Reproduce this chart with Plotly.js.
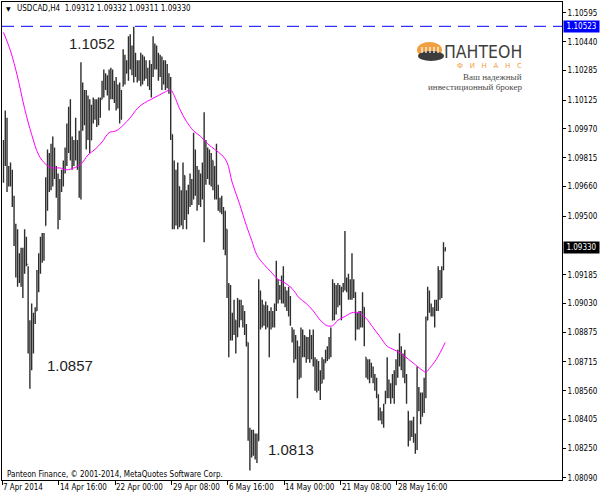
<!DOCTYPE html>
<html>
<head>
<meta charset="utf-8">
<script src="https://cdn.plot.ly/plotly-3.0.1.min.js"></script>
<style>
html,body{margin:0;padding:0;background:#fff;}
#chart{width:600px;height:496px;}
</style>
</head>
<body>
<div id="chart"></div>
<script>
// ---- USDCAD H4 bars ----
const barOpen = [
1.0972,1.0988,1.0986,1.0970,1.0972,1.0967,1.0959,1.0940,1.0924,1.0921,
1.0924,1.0918,1.0929,1.0932,1.0924,1.0883,1.0878,1.0889,1.0894,1.0899,
1.0918,1.0926,1.0934,1.0934,1.0945,1.0967,1.0975,1.0980,1.0978,1.0986,
1.0972,1.0964,1.0953,1.0967,1.0972,1.0978,1.0983,1.0996,1.1002,1.0986,
1.0983,1.0988,1.0986,1.0980,1.0991,1.1013,1.1005,1.1007,1.0994,1.1010,
1.0991,1.1007,1.1005,1.1007,1.1002,1.1010,1.1013,1.1021,1.1023,1.1021,
1.1018,1.1023,1.1018,1.1015,1.1021,1.1013,1.1015,1.1005,1.1020,1.1034,
1.1027,1.1032,1.1042,1.1034,1.1040,1.1034,1.1029,1.1032,1.1026,1.1034,
1.1026,1.1032,1.1026,1.1026,1.1021,1.1029,1.1040,1.1034,1.1034,1.1029,
1.1032,1.1023,1.1029,1.1023,1.1025,1.1021,1.0994,1.0959,1.0970,1.0953,
1.0966,1.0951,1.0961,1.0972,1.0953,1.0959,1.0964,1.0967,1.0964,1.0980,
1.0967,1.0961,1.0970,1.0961,1.0975,1.0986,1.0975,1.0983,1.0972,1.0980,
1.0967,1.0970,1.0964,1.0956,1.0956,1.0953,1.0937,1.0943,1.0910,1.0889,
1.0894,1.0891,1.0894,1.0885,1.0902,1.0897,1.0899,1.0894,1.0889,1.0882,
1.0832,1.0827,1.0824,1.0832,1.0821,1.0829,1.0905,1.0894,1.0902,1.0894,
1.0899,1.0894,1.0894,1.0897,1.0897,1.0902,1.0913,1.0910,1.0910,1.0913,
1.0907,1.0905,1.0907,1.0899,1.0890,1.0883,1.0878,1.0880,1.0867,1.0875,
1.0883,1.0878,1.0885,1.0875,1.0880,1.0883,1.0875,1.0873,1.0864,1.0859,
1.0864,1.0860,1.0870,1.0871,1.0875,1.0878,1.0883,1.0894,1.0910,1.0905,
1.0907,1.0910,1.0905,1.0910,1.0911,1.0916,1.0913,1.0913,1.0910,1.0913,
1.0909,1.0894,1.0894,1.0897,1.0894,1.0901,1.0874,1.0867,1.0870,1.0864,
1.0867,1.0862,1.0859,1.0854,1.0843,1.0843,1.0841,1.0849,1.0854,1.0859,
1.0856,1.0859,1.0856,1.0862,1.0870,1.0873,1.0875,1.0873,1.0870,1.0863,
1.0845,1.0835,1.0837,1.0835,1.0832,1.0829,1.0854,1.0848,1.0851,1.0845,
1.0856,1.0894,1.0905,1.0899,1.0899,1.0898,1.0902,1.0903,1.0918,1.0910,
1.0921,1.09312
];
const barHigh = [
1.0991,1.1007,1.1003,1.0977,1.0979,1.0975,1.0961,1.0946,1.0943,1.0930,
1.0933,1.0933,1.0943,1.0939,1.0923,1.0894,1.0903,1.0898,1.0901,1.0921,
1.0930,1.0939,1.0941,1.0941,1.0971,1.0986,1.0984,1.0989,1.0993,1.0987,
1.0977,1.0973,1.0970,1.0975,1.0980,1.0987,1.1000,1.1009,1.1013,1.0993,
1.0991,1.1003,1.0991,1.0996,1.1033,1.1022,1.1018,1.1018,1.1015,1.1013,
1.1010,1.1014,1.1013,1.1013,1.1014,1.1014,1.1023,1.1029,1.1027,1.1026,
1.1029,1.1030,1.1029,1.1023,1.1025,1.1021,1.1022,1.1018,1.1040,1.1037,
1.1034,1.1047,1.1048,1.1042,1.1052,1.1038,1.1034,1.1034,1.1038,1.1037,
1.1036,1.1034,1.1030,1.1034,1.1032,1.1047,1.1043,1.1042,1.1038,1.1037,
1.1036,1.1034,1.1034,1.1032,1.1027,1.1025,1.0994,1.0980,1.0975,1.0979,
1.0966,1.0964,1.0979,1.0972,1.0964,1.0967,1.0973,1.0970,1.0995,1.0986,
1.0977,1.0975,1.0973,1.0979,1.1006,1.0991,1.0987,1.0986,1.0984,1.0980,
1.0977,1.0989,1.0967,1.0960,1.0961,1.0955,1.0953,1.0943,1.0914,1.0913,
1.0898,1.0905,1.0894,1.0906,1.0905,1.0905,1.0902,1.0899,1.0892,1.0882,
1.0836,1.0835,1.0835,1.0833,1.0833,1.0916,1.0910,1.0905,1.0902,1.0904,
1.0902,1.0899,1.0901,1.0899,1.0903,1.0926,1.0916,1.0913,1.0918,1.0923,
1.0912,1.0910,1.0912,1.0907,1.0890,1.0889,1.0886,1.0883,1.0880,1.0890,
1.0889,1.0886,1.0885,1.0885,1.0889,1.0886,1.0889,1.0874,1.0873,1.0872,
1.0867,1.0874,1.0873,1.0878,1.0880,1.0885,1.0890,1.0916,1.0914,1.0913,
1.0914,1.0913,1.0912,1.0914,1.0942,1.0917,1.0919,1.0916,1.0930,1.0916,
1.0909,1.0898,1.0899,1.0899,1.0909,1.0901,1.0874,1.0873,1.0873,1.0871,
1.0869,1.0865,1.0863,1.0854,1.0847,1.0845,1.0849,1.0856,1.0874,1.0862,
1.0860,1.0865,1.0867,1.0873,1.0878,1.0887,1.0880,1.0876,1.0878,1.0865,
1.0845,1.0840,1.0840,1.0842,1.0833,1.0869,1.0858,1.0855,1.0855,1.0863,
1.0896,1.0912,1.0910,1.0903,1.0901,1.0905,1.0905,1.0923,1.0921,1.0923,
1.0936,1.09332
];
const barLow = [
1.0968,1.0977,1.0963,1.0966,1.0966,1.0955,1.0934,1.0917,1.0912,1.0914,
1.0912,1.0906,1.0919,1.0923,1.0876,1.0857,1.0867,1.0876,1.0892,1.0899,
1.0909,1.0919,1.0925,1.0926,1.0945,1.0953,1.0963,1.0964,1.0966,1.0970,
1.0960,1.0943,1.0948,1.0963,1.0966,1.0973,1.0977,1.0984,1.0980,1.0975,
1.0977,1.0980,1.0975,1.0960,1.0959,1.0996,1.0999,1.0986,1.0991,1.0984,
1.0991,1.1000,1.1002,1.0998,1.0999,1.1003,1.1013,1.1014,1.1018,1.1015,
1.1007,1.1013,1.1013,1.1011,1.1007,1.1008,1.1000,1.1002,1.1020,1.1021,
1.1027,1.1023,1.1029,1.1026,1.1022,1.1025,1.1022,1.1023,1.1020,1.1021,
1.1023,1.1024,1.1020,1.1018,1.1014,1.1025,1.1029,1.1029,1.1023,1.1025,
1.1018,1.1021,1.1018,1.1019,1.1016,1.0991,1.0943,1.0943,1.0945,1.0943,
1.0944,1.0945,1.0943,1.0948,1.0943,1.0951,1.0955,1.0956,1.0959,1.0961,
1.0953,1.0956,1.0955,1.0959,1.0936,1.0967,1.0970,1.0967,1.0966,1.0964,
1.0959,1.0959,1.0953,1.0952,1.0951,1.0932,1.0929,1.0906,1.0874,1.0883,
1.0883,1.0886,1.0876,1.0885,1.0890,1.0894,1.0890,1.0886,1.0880,1.0829,
1.0813,1.0820,1.0821,1.0819,1.0817,1.0829,1.0889,1.0890,1.0891,1.0889,
1.0890,1.0874,1.0889,1.0890,1.0890,1.0899,1.0903,1.0905,1.0903,1.0903,
1.0901,1.0899,1.0896,1.0891,1.0882,1.0871,1.0873,1.0852,1.0862,1.0863,
1.0874,1.0874,1.0871,1.0873,1.0871,1.0873,1.0869,1.0856,1.0855,1.0856,
1.0851,1.0860,1.0862,1.0871,1.0872,1.0873,1.0874,1.0894,1.0894,1.0897,
1.0901,1.0902,1.0894,1.0909,1.0910,1.0909,1.0905,1.0905,1.0905,1.0906,
1.0883,1.0889,1.0889,1.0890,1.0890,1.0880,1.0863,1.0862,1.0860,1.0863,
1.0860,1.0856,1.0852,1.0840,1.0840,1.0838,1.0836,1.0849,1.0852,1.0852,
1.0849,1.0852,1.0849,1.0859,1.0863,1.0869,1.0867,1.0863,1.0860,1.0849,
1.0826,1.0829,1.0831,1.0828,1.0822,1.0824,1.0845,1.0838,1.0842,1.0844,
1.0852,1.0894,1.0898,1.0896,1.0896,1.0890,1.0899,1.0899,1.0905,1.0906,
1.0921,1.09311
];
const barClose = [
1.0988,1.0986,1.0970,1.0972,1.0967,1.0959,1.0940,1.0924,1.0921,1.0924,
1.0918,1.0929,1.0932,1.0924,1.0883,1.0878,1.0889,1.0894,1.0899,1.0918,
1.0926,1.0934,1.0934,1.0939,1.0967,1.0975,1.0980,1.0978,1.0986,1.0972,
1.0964,1.0953,1.0967,1.0972,1.0978,1.0983,1.0996,1.1002,1.0986,1.0983,
1.0988,1.0986,1.0980,1.0991,1.1013,1.1005,1.1007,1.0994,1.1010,1.0991,
1.1007,1.1005,1.1007,1.1002,1.1010,1.1013,1.1021,1.1023,1.1021,1.1018,
1.1023,1.1018,1.1015,1.1021,1.1013,1.1015,1.1005,1.1015,1.1034,1.1026,
1.1032,1.1042,1.1034,1.1040,1.1034,1.1029,1.1032,1.1026,1.1034,1.1026,
1.1032,1.1026,1.1026,1.1021,1.1029,1.1040,1.1034,1.1034,1.1029,1.1032,
1.1023,1.1029,1.1023,1.1025,1.1021,1.0994,1.0959,1.0970,1.0953,1.0970,
1.0951,1.0961,1.0972,1.0953,1.0959,1.0964,1.0967,1.0964,1.0980,1.0967,
1.0961,1.0970,1.0961,1.0975,1.0986,1.0975,1.0983,1.0972,1.0980,1.0967,
1.0970,1.0964,1.0956,1.0956,1.0953,1.0937,1.0945,1.0910,1.0889,1.0894,
1.0891,1.0899,1.0883,1.0902,1.0897,1.0899,1.0894,1.0889,1.0880,1.0832,
1.0827,1.0824,1.0832,1.0821,1.0829,1.0905,1.0894,1.0902,1.0894,1.0899,
1.0894,1.0894,1.0897,1.0897,1.0902,1.0913,1.0910,1.0910,1.0913,1.0907,
1.0905,1.0907,1.0899,1.0893,1.0883,1.0878,1.0880,1.0867,1.0875,1.0883,
1.0878,1.0883,1.0875,1.0880,1.0883,1.0875,1.0873,1.0864,1.0859,1.0864,
1.0859,1.0870,1.0870,1.0875,1.0878,1.0883,1.0889,1.0910,1.0905,1.0907,
1.0910,1.0905,1.0910,1.0911,1.0916,1.0913,1.0913,1.0910,1.0913,1.0907,
1.0894,1.0894,1.0897,1.0894,1.0905,1.0883,1.0867,1.0870,1.0864,1.0867,
1.0862,1.0859,1.0854,1.0843,1.0843,1.0841,1.0848,1.0854,1.0859,1.0856,
1.0859,1.0856,1.0862,1.0870,1.0873,1.0875,1.0873,1.0870,1.0863,1.0851,
1.0835,1.0837,1.0835,1.0832,1.0829,1.0854,1.0848,1.0851,1.0845,1.0856,
1.0894,1.0905,1.0899,1.0899,1.0898,1.0902,1.0903,1.0918,1.0910,1.0921,
1.0931,1.09330
];
const barIndex = barClose.map((_, i) => i);

// ---- moving average (magenta line) read at sample bars ----
const maIndex = [0,4,8,12,16,20,24,28,32,36,40,44,48,52,56,60,64,68,72,76,80,84,88,92,95,97,100,104,108,112,116,120,124,127,130,134,138,141,144,148,152,156,160,164,168,172,176,180,184,187,190,194,198,202,206,210,214,218,222,226,230,234,238,240,242,246,251];
const maValue = [1.1049,1.1039,1.1025,1.1008,1.0994,1.0983,1.0978,1.0976,1.0976,1.0975,1.0976,1.0978,1.0983,1.0986,1.0990,1.0995,1.0996,1.0999,1.1003,1.1008,1.1011,1.1013,1.1015,1.1017,1.1018,1.1015,1.1008,1.1001,1.0996,1.0993,1.0989,1.0986,1.0983,1.0979,1.0968,1.0957,1.0945,1.0937,1.0929,1.0924,1.0920,1.0916,1.0914,1.0911,1.0906,1.0903,1.0899,1.0894,1.0891,1.0891,1.0894,1.0896,1.0898,1.0898,1.0895,1.0890,1.0885,1.0880,1.0878,1.0876,1.0873,1.0870,1.0867,1.0866,1.0868,1.0873,1.0882];

// ---- axis labels ----
const timeTickPos = [-0.7, 31.5, 63.5, 95.5, 127.5, 159.5, 191.5, 223.5];
const timeTickText = ["7 Apr 2014","14 Apr 16:00","22 Apr 00:00","29 Apr 08:00","6 May 16:00","14 May 00:00","21 May 08:00","28 May 16:00"];
const priceTickVals = [1.10595,1.10440,1.10285,1.10125,1.09970,1.09815,1.09660,1.09500,1.09185,1.09030,1.08875,1.08715,1.08560,1.08405,1.08250,1.08090];
const priceTickText = ["1.10595","1.10440","1.10285","1.10125","1.09970","1.09815","1.09660","1.09500","1.09185","1.09030","1.08875","1.08715","1.08560","1.08405","1.08250","1.08090"];

const levelLine = 1.10523;
const lastPrice = 1.09330;
const markHigh = "1.1052", markLow1 = "1.0857", markLow2 = "1.0813";
const headerText = "USDCAD,H4  1.09312 1.09332 1.09311 1.09330";
const copyrightText = "Panteon Finance, © 2001-2014, MetaQuotes Software Corp.";

// ---- layout helpers (pixel -> paper) ----
const ML = 2, MT = 2, PW = 560, PH = 478;
const PX = x => (x - ML) / PW;
const PY = y => 1 - (y - MT) / PH;

const tickFont = {family: "DejaVu Sans Condensed, DejaVu Sans, sans-serif", size: 8, color: "#000"};

const annotations = [];
timeTickPos.forEach((p, k) => annotations.push({
  x: p, xref: "x", y: 0, yref: "paper", yanchor: "top", xanchor: "left",
  yshift: -1, xshift: -1, showarrow: false, text: timeTickText[k], font: tickFont
}));
annotations.push(
  {x: PX(4), xref: "paper", y: PY(9), yref: "paper", xanchor: "left", yanchor: "middle", showarrow: false,
   text: "▼", font: {family: "DejaVu Sans", size: 6, color: "#000"}},
  {x: PX(15), xref: "paper", y: PY(9), yref: "paper", xanchor: "left", yanchor: "middle", showarrow: false,
   text: headerText, font: tickFont},
  {x: PX(5), xref: "paper", y: PY(474), yref: "paper", xanchor: "left", yanchor: "middle", showarrow: false,
   text: copyrightText, font: tickFont},
  {x: PX(92), xref: "paper", y: PY(44), yref: "paper", xanchor: "center", yanchor: "middle", showarrow: false,
   text: markHigh, font: {family: "Liberation Sans, Arial, sans-serif", size: 15, color: "#1e1e1e"}},
  {x: PX(70), xref: "paper", y: PY(365), yref: "paper", xanchor: "center", yanchor: "middle", showarrow: false,
   text: markLow1, font: {family: "Liberation Sans, Arial, sans-serif", size: 15, color: "#1e1e1e"}},
  {x: PX(291), xref: "paper", y: PY(449), yref: "paper", xanchor: "center", yanchor: "middle", showarrow: false,
   text: markLow2, font: {family: "Liberation Sans, Arial, sans-serif", size: 15, color: "#1e1e1e"}},
  // price labels on the axis
  {x: 1, xref: "paper", y: levelLine, yref: "y", xanchor: "left", yanchor: "middle", xshift: 1, showarrow: false,
   text: "1.10523", bgcolor: "#0000ff", borderpad: 1, width: 33, font: {family: tickFont.family, size: 8, color: "#fff"}},
  {x: 1, xref: "paper", y: lastPrice, yref: "y", xanchor: "left", yanchor: "middle", xshift: 1, showarrow: false,
   text: "1.09330", bgcolor: "#000", borderpad: 1, width: 33, font: {family: tickFont.family, size: 8, color: "#fff"}},
  // logo texts
  {x: PX(524), xref: "paper", y: PY(52), yref: "paper", xanchor: "right", yanchor: "middle", showarrow: false,
   text: "ПАНТЕОН", font: {family: "DejaVu Sans Condensed, DejaVu Sans, sans-serif", size: 17.5, color: "#3e3e3e"}},
  {x: PX(524), xref: "paper", y: PY(66), yref: "paper", xanchor: "right", yanchor: "middle", showarrow: false,
   text: "Ф\u00a0\u00a0\u00a0И\u00a0\u00a0\u00a0Н\u00a0\u00a0\u00a0А\u00a0\u00a0\u00a0Н\u00a0\u00a0\u00a0С", font: {family: "DejaVu Sans", size: 7, color: "#f0a044"}},
  {x: PX(524), xref: "paper", y: PY(77), yref: "paper", xanchor: "right", yanchor: "middle", showarrow: false,
   text: "Ваш надежный", font: {family: "Liberation Serif, serif", size: 9, color: "#4a4a4a"}},
  {x: PX(524), xref: "paper", y: PY(87), yref: "paper", xanchor: "right", yanchor: "middle", showarrow: false,
   text: "инвестиционный брокер", font: {family: "Liberation Serif, serif", size: 9, color: "#4a4a4a"}}
);

const shapes = [
  {type: "line", xref: "paper", x0: 0, x1: 1, yref: "y", y0: levelLine, y1: levelLine,
   line: {color: "#0000ff", width: 1, dash: "12px,7px"}},
  // logo icon
  {type: "circle", xref: "paper", yref: "paper", x0: PX(417), x1: PX(442), y0: PY(58), y1: PY(42),
   fillcolor: "#f0a040", line: {width: 0}},
  {type: "circle", xref: "paper", yref: "paper", x0: PX(418), x1: PX(444), y0: PY(61), y1: PY(51),
   fillcolor: "#3c3c3c", line: {width: 0}}
];
[422, 426, 430, 434, 438].forEach(cx => shapes.push({
  type: "line", xref: "paper", yref: "paper", x0: PX(cx), x1: PX(cx), y0: PY(53), y1: PY(47),
  line: {color: "#ffffff", width: 1.2}
}));

const traces = [
  {type: "ohlc", x: barIndex, open: barOpen, high: barHigh, low: barLow, close: barClose,
   increasing: {line: {color: "#2e2e2e", width: 1.4}}, decreasing: {line: {color: "#2e2e2e", width: 1.4}},
   tickwidth: 0.4, hoverinfo: "skip", showlegend: false},
  {type: "scatter", mode: "lines", x: maIndex, y: maValue, line: {color: "#ff00ff", width: 1, shape: "spline"},
   hoverinfo: "skip", showlegend: false}
];

const layout = {
  width: 600, height: 496,
  margin: {l: ML, r: 38, t: MT, b: 16},
  paper_bgcolor: "#fff", plot_bgcolor: "#fff",
  showlegend: false,
  font: tickFont,
  xaxis: {range: [-0.85, 317.33], tickmode: "array", tickvals: timeTickPos, ticktext: timeTickPos.map(() => ""),
          ticks: "outside", ticklen: 4, tickcolor: "#000", showline: true, mirror: true, linecolor: "#000", linewidth: 1,
          showgrid: false, zeroline: false, rangeslider: {visible: false}, fixedrange: true},
  yaxis: {range: [1.08079, 1.10654], side: "right", tickmode: "array", tickvals: priceTickVals, ticktext: priceTickText,
          ticks: "outside", ticklen: 3, tickcolor: "#000", showline: true, mirror: true, linecolor: "#000", linewidth: 1,
          showgrid: false, zeroline: false, tickfont: tickFont, fixedrange: true},
  annotations: annotations,
  shapes: shapes
};

Plotly.newPlot("chart", traces, layout, {displayModeBar: false, staticPlot: true});
</script>
</body>
</html>
